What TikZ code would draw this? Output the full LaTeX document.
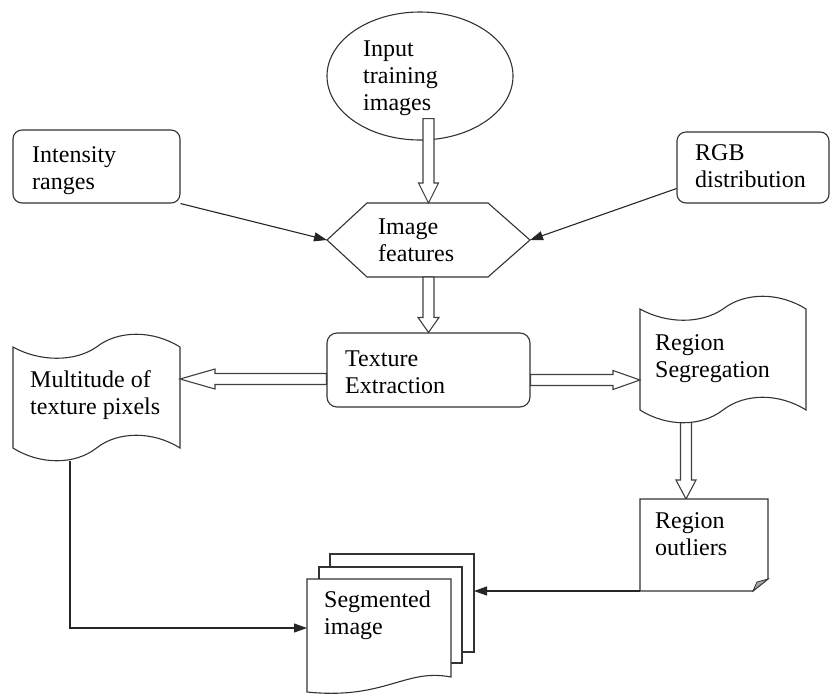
\documentclass[tikz,border=0pt]{standalone}
\usepackage{fontspec}
\setmainfont{Liberation Serif}
\usetikzlibrary{arrows.meta,calc,shapes.geometric}
\tikzset{
  shp/.style={draw=black!80, line width=1.1pt, fill=white},
  ghost/.style={inner sep=0pt, outer sep=0pt},
  txt/.style={font=\fontsize{24}{27}\selectfont, align=left, inner sep=0pt, anchor=base west},
  arr/.style={draw=black!85, line width=1.1pt, -{Triangle[length=13pt,width=9pt]}},
  blk/.style={draw=black!75, line width=1.1pt, fill=white, line join=miter},
}
\newcommand\blockarrow[4]{%
  \coordinate (ba-h) at ($(#2)!#3!(#1)$);
  \draw[blk] ($(#1)!5.5pt!90:(#2)$) -- ($(ba-h)!5.5pt!90:(#2)$) -- ($(ba-h)!#4!90:(#2)$) -- (#2)
    -- ($(ba-h)!#4!-90:(#2)$) -- ($(ba-h)!5.5pt!-90:(#2)$) -- ($(#1)!5.5pt!-90:(#2)$) -- cycle;}
\begin{document}
\begin{tikzpicture}[x=1pt,y=-1pt]
\useasboundingbox (0,0) rectangle (833,697);

% ---- named nodes (shapes) ----
\node[shp, ellipse, minimum width=186pt, minimum height=128pt] (inp) at (420,76) {};
\node[shp, rounded corners=9pt, minimum width=167pt, minimum height=73pt] (int) at (96.5,166.5) {};
\node[shp, rounded corners=9pt, minimum width=152pt, minimum height=71pt] (rgb) at (753,167.5) {};
\node[ghost, minimum width=203pt, minimum height=74pt] (feat) at (428.5,240) {};
\node[shp, rounded corners=10pt, minimum width=203pt, minimum height=74pt] (tex) at (428.5,370) {};
\node[ghost, minimum width=167pt, minimum height=116pt] (mult) at (96.5,405) {};
\node[ghost, minimum width=166pt, minimum height=127pt] (seg) at (723,359.5) {};
\node[ghost, minimum width=128pt, minimum height=92pt] (out) at (704,545) {};
\node[ghost, minimum width=144pt, minimum height=98pt] (back) at (402,603) {};
\node[ghost, minimum width=143pt, minimum height=96pt] (mid) at (390.5,615) {};
\node[ghost, minimum width=144pt, minimum height=114pt] (front) at (379,636) {};

% hexagon
\draw[shp] (feat.west) -- (367,203) -- (488,203) -- (feat.east) -- (488,277) -- (367,277) -- cycle;

% block arrow drawn under the tape it starts in
\coordinate (a5e) at ($(out.north west)+(46,0)$);
\coordinate (a5s) at (a5e |- seg.south);
\coordinate (a5s') at ($(a5s)+(0,-12)$);
\blockarrow{a5s'}{a5e}{19pt}{10pt}

% punched tape: multitude
\draw[shp] (13,347) .. controls (40,362) and (75,362) .. (96.5,347) .. controls (118,330) and (153,330) .. (180,347)
  -- (180,448) .. controls (153,431) and (118,431) .. (96.5,448) .. controls (75,465) and (40,465) .. (13,448) -- cycle;
% punched tape: region segregation
\draw[shp] (640,309) .. controls (667,324) and (701,324) .. (723,309) .. controls (745,292) and (779,292) .. (806,309)
  -- (806,410) .. controls (779,393) and (745,393) .. (723,410) .. controls (701,427) and (667,427) .. (640,410) -- cycle;

% region outliers with folded corner
\draw[shp] (out.north west) -- (out.north east) -- (768,579) -- (753,591) -- (out.south west) -- cycle;
\draw[draw=black!80, line width=0.8pt, fill=black!35] (753,591) -- (757,582) -- (768,579) -- cycle;

% multi-document
\draw[shp] (back.north west) rectangle (back.south east);
\draw[shp] (mid.north west) rectangle (mid.south east);
\draw[shp] (front.north west) -- (front.north east) -- (451,677)
  .. controls (405,668) and (385,700) .. (307,692) -- cycle;

% block arrows
\coordinate (a1s) at ($(inp.south -| feat.north)+(0,-22)$);
\blockarrow{a1s}{feat.north}{20pt}{10pt}
\blockarrow{feat.south}{tex.north}{15pt}{10.5pt}
\coordinate (a3s) at ($(tex.west)+(0,9)$);
\coordinate (a3e) at (mult.east |- a3s);
\blockarrow{a3s}{a3e}{35pt}{10pt}
\coordinate (a4s) at ($(tex.east)+(0,10)$);
\coordinate (a4e) at (seg.west |- a4s);
\blockarrow{a4s}{a4e}{27pt}{9.5pt}

% plain arrows
\draw[arr] (int.south east) -- (feat.west);
\draw[arr] ($(rgb.south west)+(0,-15)$) -- (feat.east);
\coordinate (m1) at ($(mult.south west)+(57,-2)$);
\draw[arr] (m1) |- ($(front.north west)+(0,49)$);
\draw[arr] (out.south west) -- (out.south west -| back.east);

% texts (anchor = baseline of last line)
\node[txt] (inp-t) at (363,110) {Input\\training\\images};
\node[txt] (int-t) at (32,189) {Intensity\\ranges};
\node[txt] (rgb-t) at (695,187) {RGB\\distribution};
\node[txt] (feat-t) at (378,261) {Image\\features};
\node[txt] (tex-t) at (345,393) {Texture\\Extraction};
\node[txt] (mult-t) at (30,414) {Multitude of\\texture pixels};
\node[txt] (seg-t) at (655,377) {Region\\Segregation};
\node[txt] (out-t) at (655,555) {Region\\outliers};
\node[txt] (front-t) at (324,634) {Segmented\\image};
\end{tikzpicture}
\end{document}
